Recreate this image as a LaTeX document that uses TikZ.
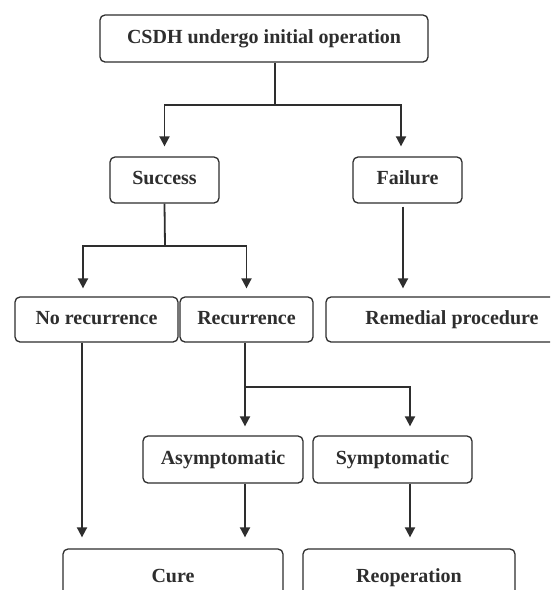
\documentclass[tikz,border=0pt]{standalone}
\usepackage{fontspec}
\setmainfont{Liberation Serif}
\usetikzlibrary{arrows.meta,calc}
\definecolor{ink}{HTML}{2E2E2E}
\begin{document}
\begin{tikzpicture}[x=1pt,y=-1pt,
  box/.style={draw=ink,line width=1.3pt,rounded corners=5pt,inner sep=0pt,
    text=ink,font=\fontsize{20}{24}\selectfont\bfseries,
    text height=13pt,text depth=4pt,align=center},
  arr/.style={draw=ink,line width=1.8pt,-{Triangle[length=10pt,width=10pt]}},
  ln/.style={draw=ink,line width=1.8pt}]
\useasboundingbox (0,0) rectangle (550,590);
\clip (0,0) rectangle (550,590);
\fill[white] (0,0) rectangle (550,590);
% nodes
\node[box,minimum width=328pt,minimum height=47pt] (top) at (264,38.5) {CSDH undergo initial operation};
\node[box,minimum width=109pt,minimum height=46pt] (succ) at (164.5,180) {Success};
\node[box,minimum width=109pt,minimum height=46pt] (fail) at (407.5,180) {Failure};
\node[box,minimum width=163pt,minimum height=45pt] (norec) at (96.5,319.5) {No recurrence};
\node[box,minimum width=133pt,minimum height=45pt] (rec) at (246.5,319.5) {Recurrence};
\node[box,minimum width=252pt,minimum height=45pt] (rem) at (452,319.5) {Remedial procedure};
\node[box,minimum width=160pt,minimum height=47pt] (asym) at (223,459.5) {Asymptomatic};
\node[box,minimum width=159pt,minimum height=47pt] (sym) at (392.5,459.5) {Symptomatic};
\node[box,minimum width=220pt,minimum height=58pt] (cure) at (173,578) {Cure};
\node[box,minimum width=212pt,minimum height=58pt] (reop) at (409,578) {Reoperation};
% junctions
\coordinate (j1) at (275,105);
\coordinate (j2) at (165,246);
\coordinate (j3) at (245,387);
% connectors
\draw[ln] ([xshift=11pt]top.south) -- (j1);
\draw[arr,shorten >=10pt] (j1) -| (succ.north);
\draw[arr,shorten >=10pt] (j1) -| ([xshift=-6.5pt]fail.north);
\draw[ln] (succ.south) -- (j2);
\draw[arr,shorten >=8pt] (j2) -| ([xshift=-13.5pt]norec.north);
\draw[arr,shorten >=8pt] (j2) -| (rec.north);
\draw[arr,shorten <=3pt,shorten >=8pt] ([xshift=-4.5pt]fail.south) -- ([xshift=-4.5pt]fail.south |- rem.north);
\draw[ln] ([xshift=-1.5pt]rec.south) -- (j3);
\draw[arr,shorten >=9pt] (j3) -| ([xshift=22pt]asym.north);
\draw[arr,shorten >=9pt] (j3) -| ([xshift=17.5pt]sym.north);
\draw[arr,shorten >=11pt] ([xshift=-14.5pt]norec.south) -- ([xshift=-14.5pt]norec.south |- cure.north);
\draw[arr,shorten >=11pt] ([xshift=22pt]asym.south) -- ([xshift=22pt]asym.south |- cure.north);
\draw[arr,shorten >=11pt] ([xshift=17.5pt]sym.south) -- ([xshift=17.5pt]sym.south |- reop.north);
\end{tikzpicture}
\end{document}
